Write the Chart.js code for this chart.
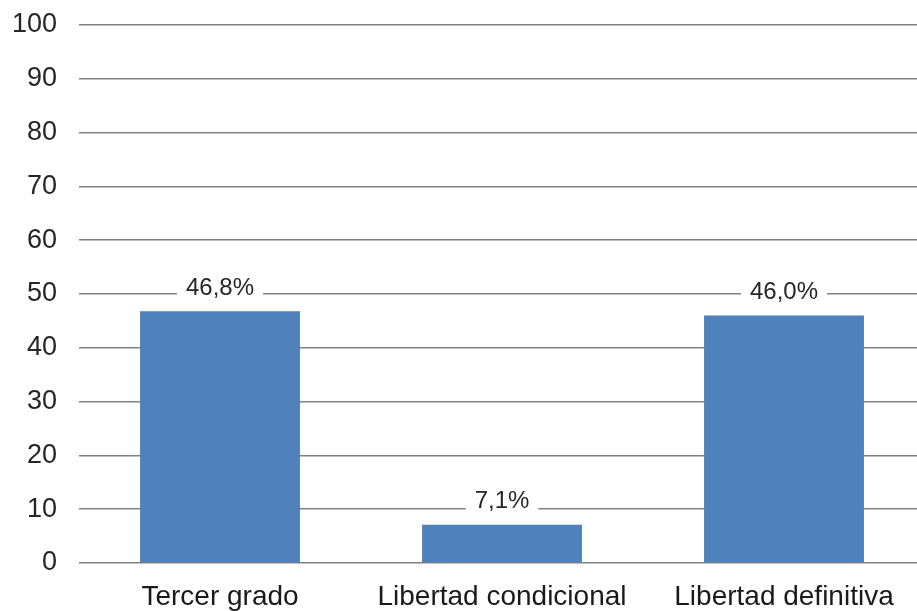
<!DOCTYPE html>
<html>
<head>
<meta charset="utf-8">
<script src="https://cdn.jsdelivr.net/npm/chart.js@4"></script>
<style>
    html, body { margin: 0; padding: 0; background: #fff; overflow: hidden; }
    #wrap { width: 925px; height: 611px; }
</style>
</head>
<body>
<div id="wrap"><canvas id="chart"></canvas></div>
<script>
// Datos del gráfico
const categorias = ['Tercer grado', 'Libertad condicional', 'Libertad definitiva'];
const porcentajes = [46.8, 7.1, 46.0];
const ticksY = [0, 10, 20, 30, 40, 50, 60, 70, 80, 90, 100];

const FONT = '"Liberation Sans", Arial, sans-serif';

// Etiquetas de valor con fondo blanco sobre cada barra
const etiquetas = {
    id: 'etiquetas',
    afterDatasetsDraw(chart) {
        const ctx = chart.ctx;
        const meta = chart.getDatasetMeta(0);
        ctx.save();
        ctx.font = '24px ' + FONT;
        ctx.textAlign = 'center';
        ctx.textBaseline = 'middle';
        meta.data.forEach((bar, i) => {
            const txt = porcentajes[i].toFixed(1).replace('.', ',') + '%';
            const w = ctx.measureText(txt).width + 18;
            const y = bar.y - 23;
            ctx.fillStyle = '#fff';
            ctx.fillRect(bar.x - w / 2, y - 14, w, 28);
            ctx.fillStyle = '#262626';
            ctx.fillText(txt, bar.x, y);
        });
        ctx.restore();
    }
};

new Chart(document.getElementById('chart'), {
    type: 'bar',
    data: {
        labels: categorias,
        datasets: [{
            data: porcentajes,
            backgroundColor: '#4F81BD',
            barPercentage: 0.567,
            categoryPercentage: 1
        }]
    },
    options: {
        responsive: true,
        maintainAspectRatio: false,
        animation: false,
        layout: { padding: { top: 25, right: 0, left: 0, bottom: 0 } },
        plugins: {
            legend: { display: false },
            tooltip: { enabled: false }
        },
        scales: {
            x: {
                grid: { display: false },
                border: { display: false },
                ticks: { color: '#1a1a1a', font: { family: FONT, size: 28 }, padding: 9, maxRotation: 0 },
                afterFit(scale) { scale.height = 48; scale.paddingLeft = 0; scale.paddingRight = 0; }
            },
            y: {
                min: 0,
                max: 100,
                afterBuildTicks(scale) { scale.ticks = ticksY.map(v => ({ value: v })); },
                grid: { color: '#808080', lineWidth: 1.6, drawTicks: false },
                border: { display: false },
                ticks: { color: '#262626', font: { family: FONT, size: 27 }, padding: 22 },
                afterFit(scale) { scale.width = 79; scale.paddingTop = 0; scale.paddingBottom = 0; }
            }
        }
    },
    plugins: [etiquetas]
});
</script>
</body>
</html>
